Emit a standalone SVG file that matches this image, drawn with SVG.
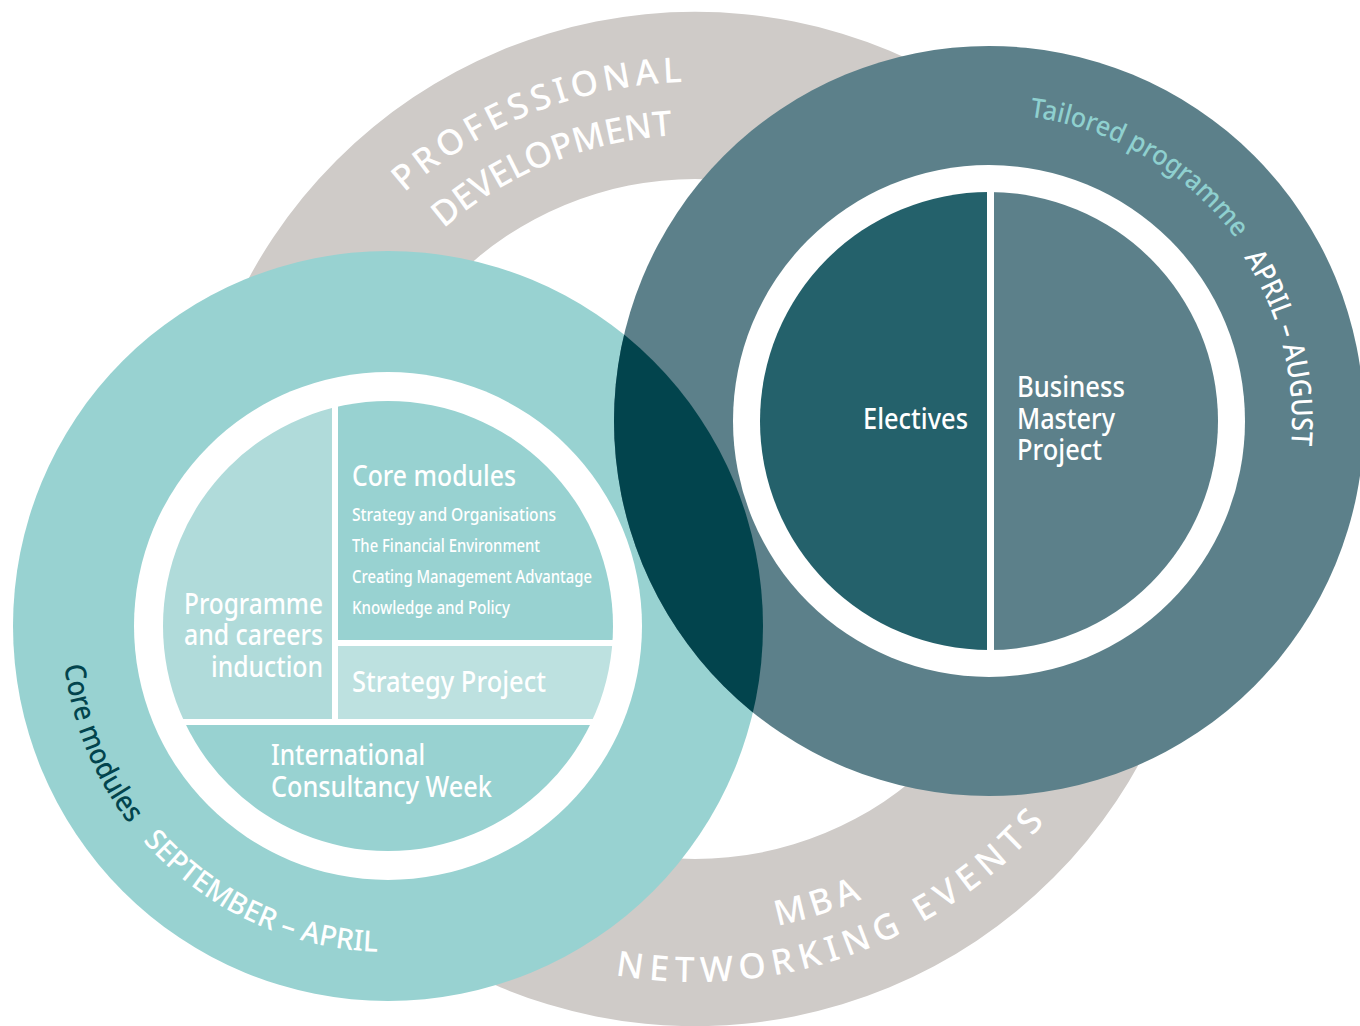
<svg xmlns="http://www.w3.org/2000/svg" width="1360" height="1026" viewBox="0 0 1360 1026">
<style>
text{font-family:"Noto Sans","Open Sans","Liberation Sans",sans-serif;font-weight:500;}
.w{fill:#ffffff;}
.h{font-size:29px;fill:#ffffff;}
.m{font-size:28px;fill:#ffffff;}
.s{font-size:18px;fill:#ffffff;}
.big{font-size:35px;fill:#ffffff;}
.rt{font-size:29px;}
.gray{fill:#cfcbc8;}
.teal{fill:#98d2d1;}
.dark{fill:#5c808a;}
</style>
<defs>
<clipPath id="cTeal"><circle cx="388" cy="626" r="375"/></clipPath>
<clipPath id="cTealIn"><circle cx="388" cy="626" r="225"/></clipPath>
<clipPath id="cDarkIn"><circle cx="989" cy="421" r="229"/></clipPath>
<path id="pProf" d="M258,519 A437,437 0 0 1 913.5,140.6"/>
<path id="pDev" d="M311,519 A384,384 0 0 1 887,186.4"/>
<path id="pMba" d="M335.6,726.5 A415,415 0 0 0 1110,519"/>
<path id="pNet" d="M294,750.5 A463,463 0 0 0 1158,519"/>
<path id="pTeal" d="M62,626 A326,326 0 0 0 444.6,947"/>
<path id="pTail" d="M935.7,118.7 A307,307 0 0 1 1277.5,526"/>
<path id="pApr" d="M936.4,122.6 A303,303 0 0 1 1273.7,524.6"/>
</defs>
<rect width="1360" height="1026" fill="#ffffff"/>

<g id="professional-development-ring">
<path class="gray" fill-rule="evenodd" d="M188,519 a507,507 0 1 0 1014,0 a507,507 0 1 0 -1014,0 Z M355,519 a340,340 0 1 0 680,0 a340,340 0 1 0 -680,0 Z"/>
<text class="big"><textPath href="#pProf" startOffset="368.4" textLength="305" lengthAdjust="spacing">PROFESSIONAL</textPath></text>
<text class="big"><textPath href="#pDev" startOffset="329" textLength="252" lengthAdjust="spacing">DEVELOPMENT</textPath></text>
<text class="big"><textPath href="#pMba" startOffset="517" textLength="89" lengthAdjust="spacing">MBA</textPath></text>
<text class="big"><textPath href="#pNet" startOffset="404.4" textLength="477" lengthAdjust="spacing">NETWORKING EVENTS</textPath></text>
</g>

<g id="core-modules-ring">
<circle class="teal" cx="388" cy="626" r="375"/>
</g>

<g id="tailored-programme-ring">
<circle class="dark" cx="989" cy="421" r="375"/>
</g>

<g id="overlap">
<circle cx="989" cy="421" r="375" fill="#02444d" clip-path="url(#cTeal)"/>
</g>

<g id="core-modules-inner">
<circle class="w" cx="388" cy="626" r="254"/>
<text class="rt" fill="#02444d"><textPath href="#pTeal" startOffset="39.8" textLength="173" lengthAdjust="spacingAndGlyphs">Core modules</textPath></text>
<text class="rt" fill="#ffffff"><textPath href="#pTeal" startOffset="234.4" textLength="267" lengthAdjust="spacingAndGlyphs">SEPTEMBER – APRIL</textPath></text>
</g>

<g id="programme-and-careers-induction">
<rect x="150" y="390" width="182" height="329" fill="#b0dbda" clip-path="url(#cTealIn)"/>
<text class="h" x="184" y="614" textLength="139" lengthAdjust="spacingAndGlyphs">Programme</text>
<text class="h" x="184" y="645" textLength="139" lengthAdjust="spacingAndGlyphs">and careers</text>
<text class="h" x="211" y="676.5" textLength="112" lengthAdjust="spacingAndGlyphs">induction</text>
</g>

<g id="core-modules">
<rect x="338" y="390" width="290" height="250" fill="#98d2d1" clip-path="url(#cTealIn)"/>
<text class="h" x="352" y="486" textLength="164" lengthAdjust="spacingAndGlyphs">Core modules</text>
<text class="s" x="352" y="521" textLength="204" lengthAdjust="spacingAndGlyphs">Strategy and Organisations</text>
<text class="s" x="352" y="552" textLength="188" lengthAdjust="spacingAndGlyphs">The Financial Environment</text>
<text class="s" x="352" y="583" textLength="240" lengthAdjust="spacingAndGlyphs">Creating Management Advantage</text>
<text class="s" x="352" y="614" textLength="158" lengthAdjust="spacingAndGlyphs">Knowledge and Policy</text>
</g>

<g id="strategy-project">
<rect x="338" y="646" width="290" height="73" fill="#bde1e0" clip-path="url(#cTealIn)"/>
<text class="h" x="352" y="692" textLength="194" lengthAdjust="spacingAndGlyphs">Strategy Project</text>
</g>

<g id="international-consultancy-week">
<rect x="150" y="725" width="478" height="140" fill="#98d2d1" clip-path="url(#cTealIn)"/>
<text class="h" x="271" y="765" textLength="154" lengthAdjust="spacingAndGlyphs">International</text>
<text class="h" x="271" y="797" textLength="221" lengthAdjust="spacingAndGlyphs">Consultancy Week</text>
</g>

<g id="tailored-programme-inner">
<circle class="w" cx="989" cy="421" r="256"/>
<text class="rt" style="font-size:27px" fill="#8fd0cf"><textPath href="#pTail" startOffset="94.3" textLength="246" lengthAdjust="spacingAndGlyphs">Tailored programme</textPath></text>
<text class="rt" fill="#ffffff"><textPath href="#pApr" startOffset="355.9" textLength="197" lengthAdjust="spacingAndGlyphs">APRIL – AUGUST</textPath></text>
</g>

<g id="electives">
<rect x="750" y="180" width="237" height="490" fill="#24616b" clip-path="url(#cDarkIn)"/>
<text class="m" x="863" y="428.5" textLength="105" lengthAdjust="spacingAndGlyphs">Electives</text>
</g>

<g id="business-mastery-project">
<rect x="994" y="180" width="240" height="490" fill="#5c808a" clip-path="url(#cDarkIn)"/>
<text class="m" x="1017" y="397" textLength="108" lengthAdjust="spacingAndGlyphs">Business</text>
<text class="m" x="1017" y="428.5" textLength="98" lengthAdjust="spacingAndGlyphs">Mastery</text>
<text class="m" x="1017" y="460" textLength="85" lengthAdjust="spacingAndGlyphs">Project</text>
</g>
</svg>
